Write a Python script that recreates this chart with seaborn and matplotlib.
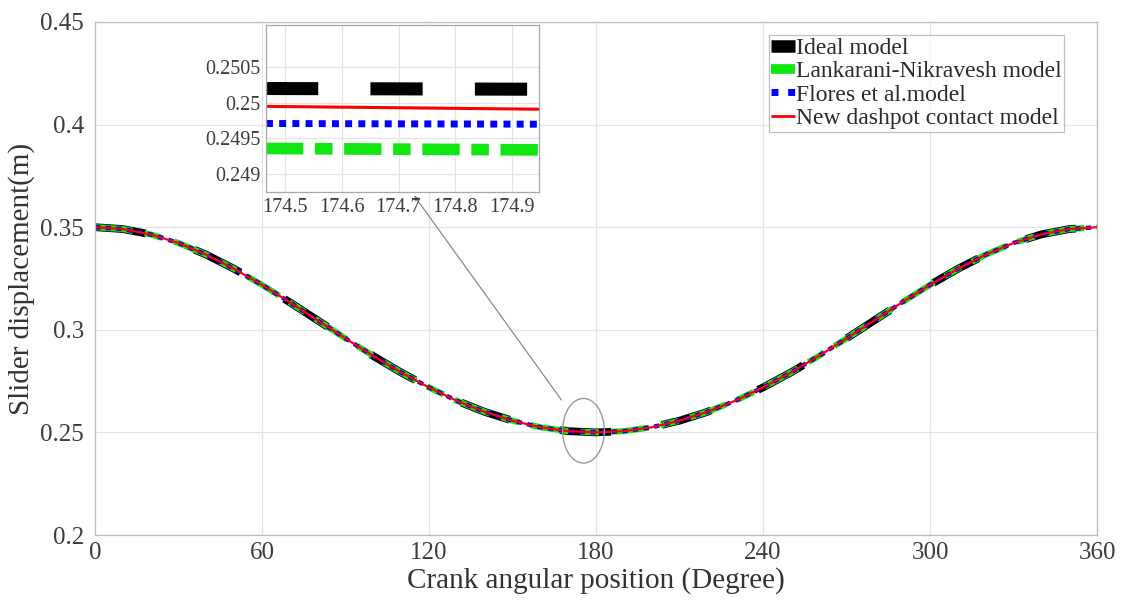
import matplotlib
matplotlib.use("Agg")
import matplotlib.pyplot as plt
import numpy as np
import pandas as pd
import seaborn as sns
from matplotlib.lines import Line2D
from matplotlib.patches import Ellipse
from matplotlib.ticker import FixedLocator, FixedFormatter

# ---------------- data ----------------
crank_angle = list(range(0, 361, 10))
slider_disp = [0.3500, 0.3491, 0.3465, 0.3423, 0.3366, 0.3297, 0.3219, 0.3134,
               0.3046, 0.2958, 0.2872, 0.2792, 0.2719, 0.2654, 0.2600, 0.2557,
               0.2525, 0.2506, 0.2500, 0.2506, 0.2525, 0.2557, 0.2600, 0.2654,
               0.2719, 0.2792, 0.2872, 0.2958, 0.3046, 0.3134, 0.3219, 0.3297,
               0.3366, 0.3423, 0.3465, 0.3491, 0.3500]

series_names = ["Ideal model", "Lankarani-Nikravesh model",
                "Flores et al.model", "New dashpot contact model"]

# zoomed window (inset)
inset_angle = [174.467, 174.947]
inset_ideal = [0.25020, 0.25019]
inset_lankarani = [0.24936, 0.24934]
inset_flores = [0.24971, 0.24970]
inset_new = [0.24995, 0.24991]

x_ticks = [0, 60, 120, 180, 240, 300, 360]
y_ticks = [0.2, 0.25, 0.3, 0.35, 0.4, 0.45]
y_tick_labels = ["0.2", "0.25", "0.3", "0.35", "0.4", "0.45"]
inset_x_ticks = [174.5, 174.6, 174.7, 174.8, 174.9]
inset_x_labels = ["174.5", "174.6", "174.7", "174.8", "174.9"]
inset_y_ticks = [0.249, 0.2495, 0.25, 0.2505]
inset_y_labels = ["0.249", "0.2495", "0.25", "0.2505"]

# ---------------- style ----------------
sns.set_style("white")
plt.rcParams["font.family"] = ["Liberation Serif", "DejaVu Serif"]
plt.rcParams["lines.solid_capstyle"] = "butt"
plt.rcParams["lines.dash_capstyle"] = "butt"

colors = ["#000000", "#10e610", "#0000ff", "#ff0000"]
text_col = "#333333"
spine_col = "#bcbcbc"
grid_col = "#e4e4e4"

fig = plt.figure(figsize=(11.21, 6.06), dpi=100)
ax = fig.add_axes([95 / 1121, 1 - 535 / 606, (1097 - 95) / 1121, (535 - 22) / 606])

df = pd.DataFrame({"angle": crank_angle, "disp": slider_disp})

# main-axes line styles: (linewidth pt, dash pattern in lw units)
main_styles = [
    (5.6, (6.6, 6.6)),
    (4.4, (6.2, 2.0, 3.0, 2.0)),
    (3.2, (1.2, 1.2)),
    (1.6, None),
]
for name, col, (lw, dash) in zip(series_names, colors, main_styles):
    ls = "-" if dash is None else (0, dash)
    sns.lineplot(data=df, x="angle", y="disp", ax=ax, color=col, linewidth=lw,
                 linestyle=ls, legend=False, errorbar=None)

ax.set_xlim(0, 360)
ax.set_ylim(0.2, 0.45)
ax.xaxis.set_major_locator(FixedLocator(x_ticks))
ax.yaxis.set_major_locator(FixedLocator(y_ticks))
ax.yaxis.set_major_formatter(FixedFormatter(y_tick_labels))
ax.grid(True, color=grid_col, linewidth=0.9)
for s in ax.spines.values():
    s.set_color(spine_col)
    s.set_linewidth(0.9)
ax.tick_params(axis="both", direction="in", length=4, color=spine_col,
               labelsize=18, labelcolor="#3c3c3c")
ax.tick_params(axis="x", pad=5)
ax.tick_params(axis="y", pad=8)
ax.set_xlabel("Crank angular position (Degree)", fontsize=21, color=text_col, labelpad=2)
ax.set_ylabel("Slider displacement(m)", fontsize=21, color=text_col, labelpad=4)

# ellipse marking zoom region + arrow to inset
ell = Ellipse((175.5, 0.2508), width=15.0, height=0.0315, facecolor="none",
              edgecolor="#9a9a9a", linewidth=1.0, zorder=6)
ax.add_patch(ell)
ax.annotate("", xy=(114.6, 0.3655), xytext=(167.6, 0.2658),
            arrowprops=dict(arrowstyle="-|>", color="#8a8a8a", lw=0.9,
                            mutation_scale=7, shrinkA=0, shrinkB=0),
            zorder=6)

# legend
handles = [
    Line2D([], [], color=colors[0], linewidth=9, solid_capstyle="butt"),
    Line2D([], [], color=colors[1], linewidth=7, solid_capstyle="butt"),
    Line2D([], [], color=colors[2], linewidth=5, linestyle=(0, (1.0, 1.4))),
    Line2D([], [], color=colors[3], linewidth=2),
]
leg = ax.legend(handles, series_names, loc="upper right",
                bbox_to_anchor=((1064 - 95) / (1097 - 95), (535 - 35) / (535 - 22)),
                fontsize=17, frameon=True, fancybox=False, handlelength=1.0,
                handletextpad=0.05, labelspacing=0.08, borderpad=0.1,
                borderaxespad=0.0)
leg.get_frame().set_edgecolor("#b0b0b0")
leg.get_frame().set_linewidth(0.9)
for t in leg.get_texts():
    t.set_color("#2a2a2a")

# ---------------- inset ----------------
axin = fig.add_axes([266 / 1121, 1 - 192 / 606, (539 - 266) / 1121, (192 - 25) / 606])
inset_df = pd.DataFrame({
    "angle": inset_angle * 4,
    "disp": inset_ideal + inset_lankarani + inset_flores + inset_new,
    "series": sum([[n] * len(inset_angle) for n in series_names], []),
})
inset_styles = [
    (9.4, (4.0, 4.0)),
    (8.4, (3.2, 1.0, 1.5, 1.0)),
    (5.0, (1.0, 0.9)),
    (2.2, None),
]
for name, col, (lw, dash) in zip(series_names, colors, inset_styles):
    ls = "-" if dash is None else (0, dash)
    sub = inset_df[inset_df["series"] == name]
    sns.lineplot(data=sub, x="angle", y="disp", ax=axin, color=col, linewidth=lw,
                 linestyle=ls, legend=False, errorbar=None)

axin.set_xlim(174.467, 174.947)
axin.set_ylim(0.24875, 0.25109)
axin.xaxis.set_major_locator(FixedLocator(inset_x_ticks))
axin.xaxis.set_major_formatter(FixedFormatter(inset_x_labels))
axin.yaxis.set_major_locator(FixedLocator(inset_y_ticks))
axin.yaxis.set_major_formatter(FixedFormatter(inset_y_labels))
axin.grid(True, color=grid_col, linewidth=0.9)
axin.set_facecolor("white")
for s in axin.spines.values():
    s.set_color("#a8a8a8")
    s.set_linewidth(0.9)
axin.tick_params(axis="both", direction="in", length=3, color="#a8a8a8",
                 labelsize=14.5, labelcolor="#3c3c3c", pad=4)
axin.set_xlabel("")
axin.set_ylabel("")

fig.savefig("out.png", dpi=100, facecolor="white")
